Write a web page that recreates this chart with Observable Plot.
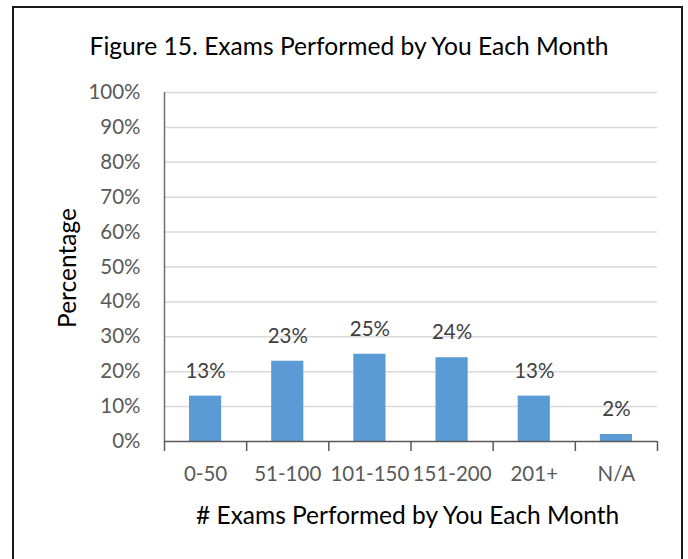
<!DOCTYPE html>
<html>
<head>
<meta charset="utf-8">
<script src="https://cdn.jsdelivr.net/npm/d3@7"></script>
<script src="https://cdn.jsdelivr.net/npm/@observablehq/plot@0.6"></script>
<style>
  html, body { margin: 0; padding: 0; background: #fff; overflow: hidden; }
  #wrap { position: relative; width: 688px; height: 559px; font-family: Lato, sans-serif; }
  #frame { position: absolute; left: 12px; top: 6px; width: 671px; height: 600px; border: 2px solid #1a1a1a; border-bottom: none; box-sizing: border-box; }
  #chart { position: absolute; left: 0; top: 0; }
  .lbl { position: absolute; white-space: nowrap; color: #000; }
  #title { left: 0; width: 698px; top: 31px; text-align: center; font-size: 24.6px; }
  #xtitle { left: 196px; top: 500px; font-size: 24.5px; }
  #ytitle { left: 66px; top: 268px; font-size: 24.5px; transform: translate(-50%, -50%) rotate(-90deg); }
</style>
</head>
<body>
<div id="wrap">
  <div id="frame"></div>
  <div id="chart"></div>
  <div class="lbl" id="title">Figure 15. Exams Performed by You Each Month</div>
  <div class="lbl" id="ytitle">Percentage</div>
  <div class="lbl" id="xtitle"># Exams Performed by You Each Month</div>
</div>
<script>
const categories = ["0-50", "51-100", "101-150", "151-200", "201+", "N/A"];
const values = [13, 23, 25, 24, 13, 2];
const yTicks = [0, 10, 20, 30, 40, 50, 60, 70, 80, 90, 100];
const xBounds = [0, 1, 2, 3, 4, 5, 6];

const data = categories.map((c, i) => ({c, i, v: values[i]}));

const chart = Plot.plot({
  width: 688,
  height: 559,
  marginLeft: 164,
  marginRight: 31,
  marginTop: 92,
  marginBottom: 118,
  style: {fontFamily: "Lato, sans-serif", background: "transparent", overflow: "visible"},
  x: {domain: [0, 6], axis: null, label: null},
  y: {domain: [0, 100], axis: null, label: null},
  marks: [
    Plot.ruleY(yTicks.filter(d => d > 0), {stroke: "#d9d9d9", strokeWidth: 1.5}),
    Plot.rectY(data, {x1: "i", x2: d => d.i + 1, y: "v", insetLeft: 25, insetRight: 25, fill: "#5b9bd5"}),
    Plot.text(data, {x: d => d.i + 0.5, y: "v", text: d => d.v + "%", dy: -25, fontSize: 20.5, fill: "#404040"}),
    Plot.ruleX([0], {y1: 0, y2: 100, stroke: "#6f6f6f", strokeWidth: 1.5}),
    Plot.ruleY([0], {stroke: "#595959", strokeWidth: 1.5}),
    Plot.axisX({ticks: xBounds, tickSize: 10, tickFormat: () => "", label: null, stroke: "#595959", strokeWidth: 1.5}),
    Plot.text(data, {x: d => d.i + 0.5, y: 0, dy: 33, text: "c", fontSize: 20.5, fill: "#595959"}),
    Plot.axisY({ticks: yTicks, tickSize: 0, tickPadding: 24, tickFormat: d => d + "%", label: null, fontSize: 20.5, fill: "#595959"})
  ]
});
document.getElementById("chart").appendChild(chart);
</script>
</body>
</html>
